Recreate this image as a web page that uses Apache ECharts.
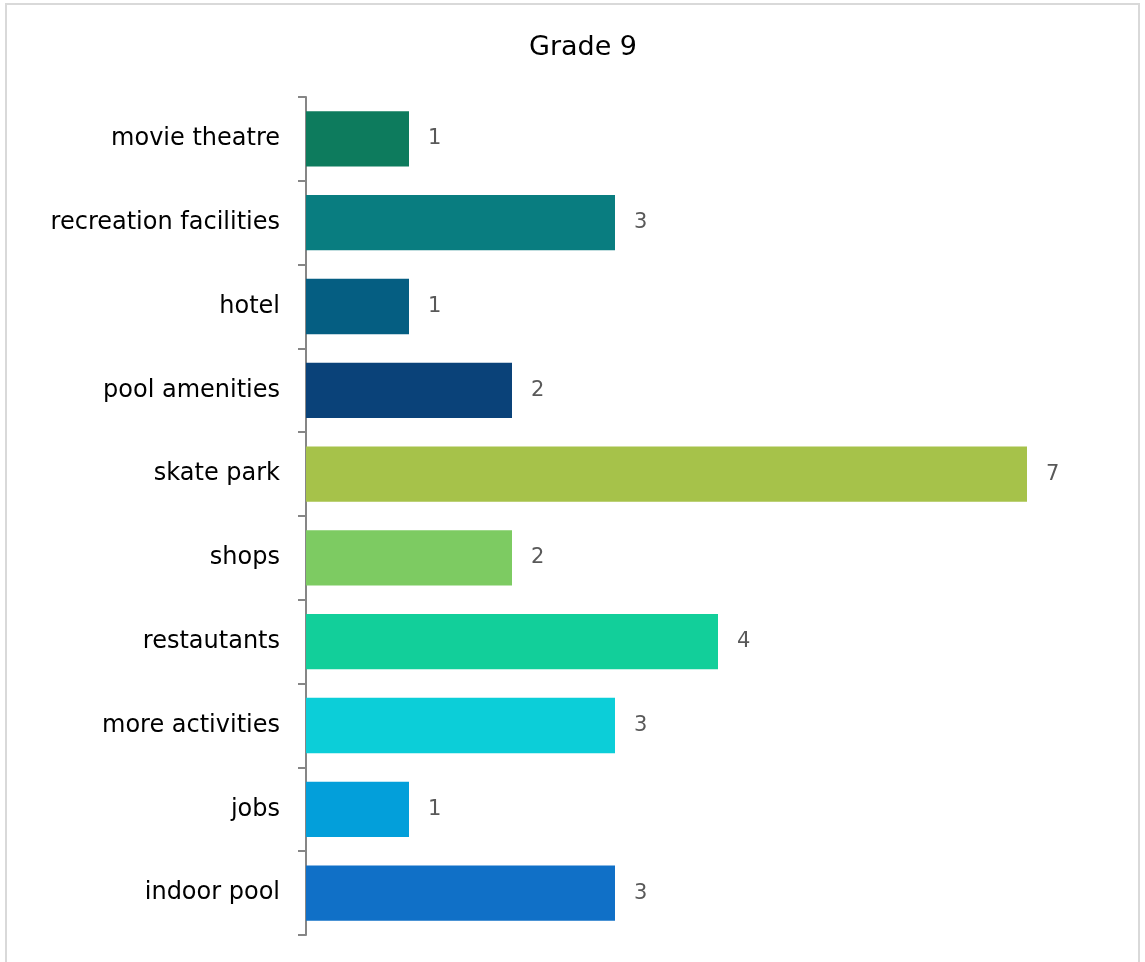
<!DOCTYPE html>
<html>
<head>
<meta charset="utf-8">
<script src="https://cdn.jsdelivr.net/npm/echarts@6/dist/echarts.min.js"></script>
<style>
html,body{margin:0;padding:0;background:#fff;}
#main{width:1145px;height:962px;}
</style>
</head>
<body>
<div id="main"></div>
<script>
var categories = ['movie theatre','recreation facilities','hotel','pool amenities','skate park','shops','restautants','more activities','jobs','indoor pool'];
var values = [1,3,1,2,7,2,4,3,1,3];
var barColors = ['#0D7B5D','#097D80','#055E82','#0A4279','#A6C24A','#7DCB62','#12CF9A','#0CCED8','#039FDA','#1070C7'];

var myChart = echarts.init(document.getElementById('main'));
var fontName = '"Century Gothic", "DejaVu Sans", sans-serif';

var data = [];
for(var i=0;i<values.length;i++){
	data.push({value: values[i], itemStyle: {color: barColors[i]}});
}

var option = {
	animation: false,
	title: {
		text: 'Grade 9',
		left: 578,
		textAlign: 'center',
		top: 29,
		textStyle: {fontFamily: fontName, fontSize: 27, fontWeight: 'normal', color: '#000'}
	},
	graphic: [{
		type: 'rect',
		shape: {x: 6, y: 4, width: 1133, height: 980},
		style: {fill: 'none', stroke: '#d9d9d9', lineWidth: 2}
	}],
	grid: {
		left: 306,
		top: 97,
		width: 721,
		height: 838
	},
	xAxis: {
		type: 'value',
		min: 0,
		max: 7,
		show: false
	},
	yAxis: {
		type: 'category',
		data: categories,
		inverse: true,
		axisLine: {lineStyle: {color: '#868686', width: 2}},
		axisTick: {show: true, length: 8, lineStyle: {color: '#868686', width: 2}},
		axisLabel: {fontFamily: fontName, fontSize: 24, color: '#000', margin: 26, lineHeight: 30, verticalAlign: 'middle'}
	},
	series: [{
		type: 'bar',
		data: data,
		barCategoryGap: '34%',
		label: {
			show: true,
			position: 'right',
			distance: 19,
			fontFamily: fontName,
			fontSize: 21,
			color: '#595959'
		}
	}]
};
myChart.setOption(option);
</script>
</body>
</html>
